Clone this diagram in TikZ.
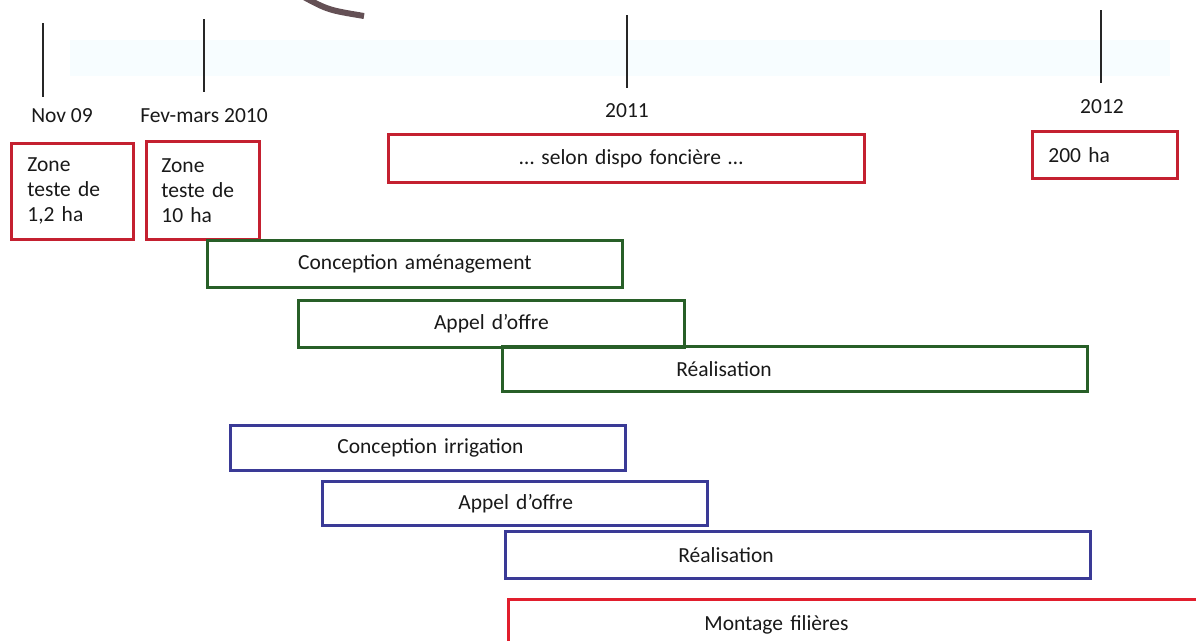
\documentclass[tikz,border=0pt]{standalone}
\usepackage{fontspec}
\setmainfont{Carlito}
\begin{document}
\begin{tikzpicture}[x=1pt,y=-1pt,
  txt/.style={font=\fontsize{21.5}{25}\selectfont, text=black!90},
  tick/.style={line width=2pt, draw=black!85},
  bar/.style={txt, draw, line width=2.8pt, rectangle, anchor=north west, inner sep=0pt, align=left},
  redbar/.style={bar, draw={rgb,255:red,196;green,32;blue,48}},
  greenbar/.style={bar, draw={rgb,255:red,40;green,95;blue,40}},
  bluebar/.style={bar, draw={rgb,255:red,58;green,58;blue,150}}]
\clip (0,0) rectangle (1196,640);
\fill[white] (0,0) rectangle (1196,640);
% faint band and arrow piece at the top
\fill[cyan!3] (70,40) rectangle (1170,76);
\draw[line width=6pt, draw={rgb,255:red,100;green,80;blue,85}] (302,-4) .. controls (328,10) .. (364,16);
% time marks
\coordinate (t1a) at (43,23);  \coordinate (t1b) at (43,97);
\coordinate (t2a) at (204,19); \coordinate (t2b) at (204,92);
\coordinate (t3a) at (627,15); \coordinate (t3b) at (627,88);
\coordinate (t4a) at (1101,10); \coordinate (t4b) at (1101,83);
\draw[tick] (t1a) -- (t1b);
\draw[tick] (t2a) -- (t2b);
\draw[tick] (t3a) -- (t3b);
\draw[tick] (t4a) -- (t4b);
\node[txt] (nov) at (62,116) {Nov 09};
\node[txt] (fev) at (204,116) {Fev-mars 2010};
\node[txt] (y11) at (627,111) {2011};
\node[txt] (y12) at (1102,107) {2012};
% surfaces
\node[redbar, minimum width=122pt, minimum height=96pt, text width=122pt] (z1) at (10,142) {\hspace*{16pt}Zone\\\hspace*{16pt}teste de\\\hspace*{16pt}1,2 ha};
\node[redbar, minimum width=113pt, minimum height=98pt, text width=113pt] (z2) at (145,140) {\hspace*{15pt}Zone\\\hspace*{15pt}teste de\\\hspace*{15pt}10 ha};
\node[redbar, minimum width=476pt, minimum height=48pt, text width=476pt] (dispo) at (387,133) {\hspace*{131pt}\dots{} selon dispo foncière \dots};
\node[redbar, minimum width=145pt, minimum height=47pt, text width=145pt] (z3) at (1031,130) {\hspace*{16pt}200 ha};
% amenagement
\node[greenbar, minimum width=415pt, minimum height=47pt, text width=415pt, align=center] (cam) at (206,239) {Conception aménagement};
\node[greenbar, minimum width=386pt, minimum height=47pt, text width=386pt, align=center] (aoa) at (297,299) {Appel d’offre};
\node[greenbar, minimum width=585pt, minimum height=45pt, text width=585pt] (rea) at (501,345) {\hspace*{174pt}Réalisation};
% irrigation
\node[bluebar, minimum width=395pt, minimum height=45pt, text width=395pt] (cir) at (229,424) {\hspace*{107pt}Conception irrigation};
\node[bluebar, minimum width=385pt, minimum height=44pt, text width=385pt] (aoi) at (321,480) {\hspace*{136pt}Appel d’offre};
\node[bluebar, minimum width=585pt, minimum height=47pt, text width=585pt] (rei) at (504,530) {\hspace*{173pt}Réalisation};
% filieres
\node[redbar, draw={rgb,255:red,225;green,30;blue,45}, minimum width=700pt, minimum height=50pt, text width=700pt] (fil) at (507,598) {\hspace*{196pt}Montage filières};
\end{tikzpicture}
\end{document}
